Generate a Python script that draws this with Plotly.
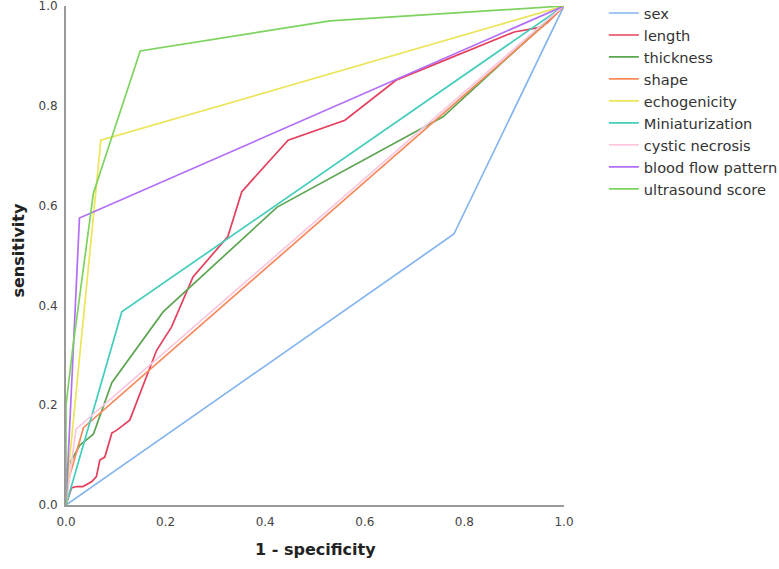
import plotly.graph_objects as go

# ROC curves (1 - specificity, sensitivity)
sex_x = [0.0, 0.779, 1.0]
sex_y = [0.0, 0.543, 1.0]

length_x = [0.0, 0.011, 0.021, 0.034, 0.052, 0.061, 0.068, 0.078, 0.092, 0.102,
            0.128, 0.182, 0.212, 0.255, 0.325, 0.353, 0.446, 0.56, 0.664, 0.9,
            0.946, 0.966, 1.0]
length_y = [0.0, 0.034, 0.037, 0.037, 0.047, 0.057, 0.09, 0.096, 0.144, 0.15,
            0.17, 0.31, 0.357, 0.457, 0.538, 0.628, 0.731, 0.771, 0.852, 0.948,
            0.956, 0.966, 1.0]

thickness_x = [0.0, 0.0, 0.028, 0.055, 0.092, 0.195, 0.424, 0.757, 1.0]
thickness_y = [0.0, 0.07, 0.12, 0.142, 0.245, 0.387, 0.597, 0.778, 1.0]

shape_x = [0.0, 0.005, 0.035, 0.97, 1.0]
shape_y = [0.0, 0.05, 0.155, 0.97, 1.0]

echo_x = [0.0, 0.008, 0.07, 1.0]
echo_y = [0.0, 0.1, 0.731, 1.0]

mini_x = [0.0, 0.112, 1.0]
mini_y = [0.0, 0.387, 1.0]

cystic_x = [0.0, 0.02, 0.97, 1.0]
cystic_y = [0.0, 0.152, 0.975, 1.0]

blood_x = [0.0, 0.027, 1.0]
blood_y = [0.0, 0.575, 1.0]

us_x = [0.0, 0.0, 0.013, 0.055, 0.149, 0.53, 1.0]
us_y = [0.0, 0.2, 0.31, 0.625, 0.91, 0.97, 1.0]

series = [
    ("sex", sex_x, sex_y, "#85b5ef"),
    ("length", length_x, length_y, "#e4405e"),
    ("thickness", thickness_x, thickness_y, "#5da552"),
    ("shape", shape_x, shape_y, "#f78a5c"),
    ("echogenicity", echo_x, echo_y, "#ece55a"),
    ("Miniaturization", mini_x, mini_y, "#44cdbb"),
    ("cystic necrosis", cystic_x, cystic_y, "#fcc8df"),
    ("blood flow pattern", blood_x, blood_y, "#b26ef6"),
    ("ultrasound score", us_x, us_y, "#7dd35f"),
]

fig = go.Figure()
for name, xs, ys, col in series:
    fig.add_trace(go.Scatter(x=xs, y=ys, mode="lines", name=name,
                             line=dict(color=col, width=1.7)))

axis_style = dict(
    range=[0, 1], dtick=0.2, tickformat=".1f",
    showgrid=False, zeroline=False, showline=True,
    linecolor="#9a9a9a", linewidth=2, ticks="", automargin=False,
    ticklabeloverflow="allow",
    tickfont=dict(family="DejaVu Sans", size=12, color="#444444"),
)

fig.update_layout(
    width=779, height=569,
    margin=dict(l=66, r=215, t=6, b=64, autoexpand=False),
    paper_bgcolor="white", plot_bgcolor="white",
    font=dict(family="DejaVu Sans", color="#333333"),
    xaxis=dict(axis_style, ticklabelstandoff=5),
    yaxis=dict(axis_style, ticklabelstandoff=4),
    legend=dict(x=1.08, y=1.018, xanchor="left", yanchor="top",
                font=dict(family="DejaVu Sans", size=14.6, color="#333333"),
                bgcolor="rgba(0,0,0,0)", tracegroupgap=0),
)

# axis titles placed as annotations so they sit where the reference has them
fig.add_annotation(text="<b>1 - specificity</b>", xref="paper", yref="paper",
                   x=0.5, y=0, yshift=-44, yanchor="middle", showarrow=False,
                   font=dict(size=16, color="#222222"))
fig.add_annotation(text="<b>sensitivity</b>", xref="paper", yref="paper",
                   x=0, y=0.51, xshift=-47, xanchor="center", yanchor="middle",
                   textangle=-90, showarrow=False,
                   font=dict(size=16, color="#222222"))

# page body has a default 8px margin; drop it so the figure fills the window
fig.write_html("out.html", config={"displayModeBar": False},
               post_script="document.body.style.margin='0';")
